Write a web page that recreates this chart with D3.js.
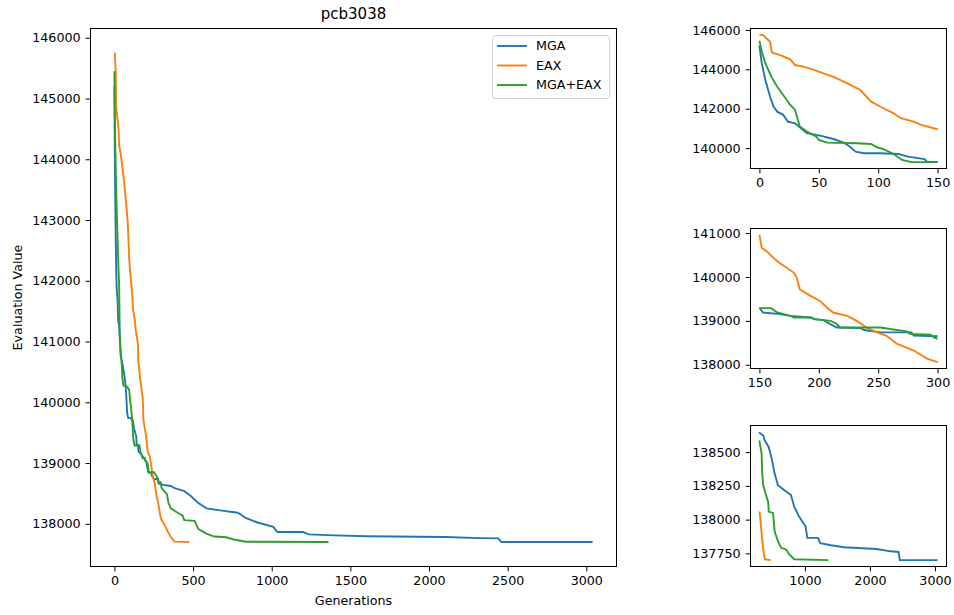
<!DOCTYPE html>
<html>
<head>
<meta charset="utf-8">
<script src="https://cdn.jsdelivr.net/npm/d3@7"></script>
<style>
  body { margin: 0; background: #fff; }
  text { font-family: "DejaVu Sans", sans-serif; fill: #000; }
  .tick text { font-size: 12.7px; }
  .tick line { stroke: #000; }
</style>
</head>
<body>
<script>
// best evaluation value per generation
const mgaGen = [0, 2, 5, 9, 12, 15, 20, 24, 30, 35, 40, 52, 63, 71, 76, 81, 88, 102, 117, 125, 139, 141, 150,
  153, 167, 176, 193, 196, 204, 207, 215, 235, 238, 252, 278, 280, 300,
  308, 359, 383, 444, 484, 534, 585, 684, 785, 835, 910, 1010, 1036, 1200, 1236, 1400, 1600, 2100, 2320, 2440, 2460, 3040];
const mgaVal = [145200, 144300, 143460, 142610, 142100, 141850, 141690, 141350, 141260, 141010, 140760, 140620, 140450, 140280, 140080, 139820, 139740, 139740, 139705, 139570, 139440, 139310, 139300,
  139190, 139155, 139115, 139077, 139040, 139018, 138964, 138850, 138837, 138792, 138738, 138738, 138663, 138650,
  138640, 138623, 138586, 138537, 138463, 138341, 138255, 138218, 138182, 138096, 138022, 137949, 137865, 137865, 137826, 137810, 137795, 137782, 137765, 137760, 137700, 137700];

const eaxGen = [0, 3, 9, 10.5, 17, 26, 30, 37, 46, 54, 63, 74, 85, 94, 102, 113, 119, 130, 136, 150,
  152, 156, 162, 167, 173, 179, 181.5, 184, 193, 201, 207, 212, 224, 232, 240, 249, 257, 266, 280, 291, 300,
  308, 334, 359, 383, 475];
const eaxVal = [145750, 145745, 145400, 144850, 144730, 144510, 144220, 144140, 143970, 143800, 143600, 143290, 142950, 142360, 142100, 141770, 141520, 141350, 141180, 140960,
  140660, 140590, 140430, 140320, 140210, 140095, 139980, 139720, 139570, 139455, 139300, 139190, 139115, 139000, 138850, 138740, 138660, 138475, 138325, 138140, 138060,
  138035, 137900, 137780, 137706, 137700];

const mixGen = [0, 2, 5, 10, 15, 20, 26, 30, 34, 40, 48, 50, 57, 82, 94, 99, 105, 113, 120, 128, 150,
  160, 165, 176, 179, 194, 196, 210, 215, 218, 252, 260, 274, 277, 294, 297, 300,
  308, 334, 344, 359, 394, 434, 444, 510, 534, 585, 635, 710, 760, 835, 1361];
const mixVal = [145450, 144900, 144310, 143630, 143120, 142700, 142190, 141940, 141100, 140840, 140580, 140420, 140280, 140250, 140210, 140045, 139940, 139705, 139400, 139290, 139290,
  139290, 139190, 139115, 139077, 139077, 139040, 139000, 138930, 138850, 138850, 138814, 138760, 138700, 138685, 138625, 138588,
  138561, 138488, 138341, 138255, 138195, 138133, 138060, 138048, 137913, 137840, 137791, 137779, 137742, 137706, 137700];

const seriesNames = ["MGA", "EAX", "MGA+EAX"];
const colors = ["#1f77b4", "#ff7f0e", "#2ca02c"];

const mainXTicks = [0, 500, 1000, 1500, 2000, 2500, 3000];
const mainYTicks = [138000, 139000, 140000, 141000, 142000, 143000, 144000, 145000, 146000];

// the three zoomed panels on the right: generation windows and their ticks
const insetWindows = [[0, 150], [150, 300], [300, Infinity]];
const insetXTicks = [[0, 50, 100, 150], [150, 200, 250, 300], [1000, 2000, 3000]];
const insetYTicks = [
  [140000, 142000, 144000, 146000],
  [138000, 139000, 140000, 141000],
  [137750, 138000, 138250, 138500]
];

const width = 954, height = 615;

const series = [
  d3.zip(mgaGen, mgaVal),
  d3.zip(eaxGen, eaxVal),
  d3.zip(mixGen, mixVal)
];

const svg = d3.select("body").append("svg")
  .attr("width", width)
  .attr("height", height);

// matplotlib style 5% margin around the data
function padded(ext) {
  const m = (ext[1] - ext[0]) * 0.05;
  return [ext[0] - m, ext[1] + m];
}

function drawPanel(box, data, xTicks, yTicks) {
  const all = data.flat();
  const x = d3.scaleLinear()
    .domain(padded(d3.extent(all, function(d) { return d[0]; })))
    .range([box.x0, box.x1]);
  const y = d3.scaleLinear()
    .domain(padded(d3.extent(all, function(d) { return d[1]; })))
    .range([box.y1, box.y0]);

  const g = svg.append("g");

  const line = d3.line()
    .x(function(d) { return x(d[0]); })
    .y(function(d) { return y(d[1]); });

  g.selectAll(".series")
    .data(data)
    .enter()
      .append("path")
      .attr("class", "series")
      .attr("fill", "none")
      .attr("stroke", function(d, i) { return colors[i]; })
      .attr("stroke-width", 1.9)
      .attr("d", line);

  g.append("g")
    .attr("transform", "translate(0," + box.y1 + ")")
    .call(d3.axisBottom(x).tickValues(xTicks).tickFormat(d3.format("d"))
      .tickSize(4.9).tickPadding(5).tickSizeOuter(0))
    .call(function(a) { a.select(".domain").remove(); });

  g.append("g")
    .attr("transform", "translate(" + box.x0 + ",0)")
    .call(d3.axisLeft(y).tickValues(yTicks).tickFormat(d3.format("d"))
      .tickSize(4.9).tickPadding(5).tickSizeOuter(0))
    .call(function(a) { a.select(".domain").remove(); });

  g.append("rect")
    .attr("x", box.x0)
    .attr("y", box.y0)
    .attr("width", box.x1 - box.x0)
    .attr("height", box.y1 - box.y0)
    .attr("fill", "none")
    .attr("stroke", "#000")
    .attr("stroke-width", 1);

  return g;
}

// main panel
const mainBox = { x0: 90.5, x1: 616.5, y0: 28.5, y1: 566.5 };
drawPanel(mainBox, series, mainXTicks, mainYTicks);

svg.append("text")
  .attr("x", (mainBox.x0 + mainBox.x1) / 2)
  .attr("y", 18.5)
  .attr("text-anchor", "middle")
  .style("font-size", "15px")
  .text("pcb3038");

svg.append("text")
  .attr("x", (mainBox.x0 + mainBox.x1) / 2)
  .attr("y", 605)
  .attr("text-anchor", "middle")
  .style("font-size", "12.7px")
  .text("Generations");

svg.append("text")
  .attr("transform", "translate(22," + (mainBox.y0 + mainBox.y1) / 2 + ") rotate(-90)")
  .attr("text-anchor", "middle")
  .style("font-size", "12.7px")
  .text("Evaluation Value");

// legend
const legend = svg.append("g");
legend.append("rect")
  .attr("x", 492.5).attr("y", 35.5)
  .attr("width", 117).attr("height", 63)
  .attr("rx", 3)
  .attr("fill", "#fff")
  .attr("stroke", "#d0d0d0");

const items = legend.selectAll(".item")
  .data(seriesNames)
  .enter()
    .append("g")
    .attr("class", "item")
    .attr("transform", function(d, i) { return "translate(497," + (46 + i * 19.5) + ")"; });

items.append("line")
  .attr("x1", 0).attr("x2", 30)
  .attr("stroke", function(d, i) { return colors[i]; })
  .attr("stroke-width", 1.9);

items.append("text")
  .attr("x", 39)
  .attr("dy", "0.35em")
  .style("font-size", "12.7px")
  .text(function(d) { return d; });

// inset panels
const insetBoxes = [
  { x0: 750.5, x1: 946.5, y0: 28.5, y1: 168.5 },
  { x0: 750.5, x1: 946.5, y0: 228.5, y1: 368.5 },
  { x0: 750.5, x1: 946.5, y0: 425.5, y1: 566.5 }
];

insetWindows.forEach(function(w, k) {
  const data = series.map(function(s) {
    return s.filter(function(d) { return d[0] >= w[0] && d[0] <= w[1]; });
  });
  drawPanel(insetBoxes[k], data, insetXTicks[k], insetYTicks[k]);
});
</script>
</body>
</html>
